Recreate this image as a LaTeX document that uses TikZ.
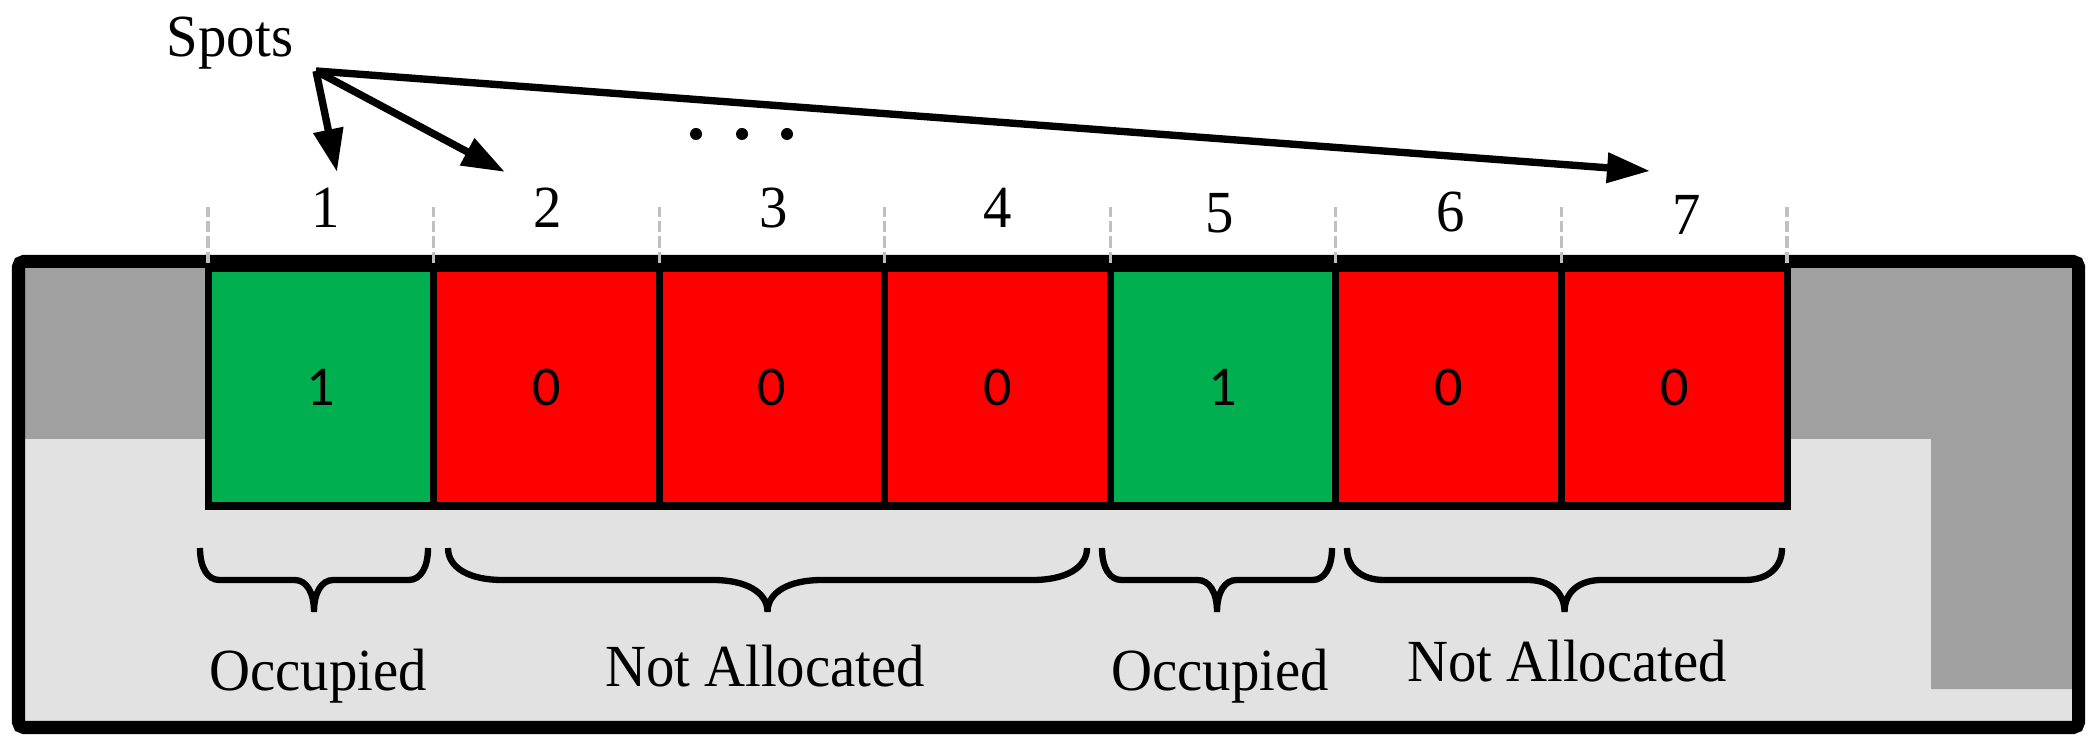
\documentclass[tikz,border=0pt]{standalone}
\usepackage{fontspec}
\setmainfont{Liberation Serif}[FakeStretch=0.95]
\newfontfamily\cellfont{Carlito}
\usetikzlibrary{positioning, arrows.meta, calc}
\definecolor{occcol}{RGB}{0,176,80}
\definecolor{freecol}{RGB}{255,0,0}
\definecolor{wallcol}{RGB}{160,160,160}
\definecolor{floorcol}{RGB}{226,226,226}
\definecolor{tickcol}{RGB}{192,192,192}

% curly brace under a group of spots: left x, right x
\newcommand{\spotbrace}[2]{%
  \pgfmathsetmacro{\bmid}{(#1+#2)/2}%
  \pgfmathsetmacro{\bcur}{0.085*(#2-#1)}%
  \draw[bracepath] (#1,2.00) .. controls (#1,1.80) and ({#1+0.4*\bcur},1.68) .. ({#1+\bcur},1.68)
    -- ({\bmid-\bcur},1.68) .. controls ({\bmid-0.4*\bcur},1.68) and (\bmid,1.56) .. (\bmid,1.36)
    .. controls (\bmid,1.56) and ({\bmid+0.4*\bcur},1.68) .. ({\bmid+\bcur},1.68)
    -- ({#2-\bcur},1.68) .. controls ({#2-0.4*\bcur},1.68) and (#2,1.80) .. (#2,2.00);}

\begin{document}
\begin{tikzpicture}[
  cell/.style={draw, line width=2pt, minimum width=2.2557cm, minimum height=2.38cm, outer sep=0pt, inner sep=0pt, font=\cellfont\fontsize{16}{18}\selectfont},
  occspot/.style={cell, fill=occcol},
  freespot/.style={cell, fill=freecol},
  spotnum/.style={font=\fontsize{17}{20}\selectfont, anchor=base, inner sep=0pt},
  tick/.style={tickcol, line width=0.9pt, dash pattern=on 3.2pt off 1.2pt},
  ptr/.style={-{Triangle[length=4.3mm, width=2.9mm]}, line width=2.1pt},
  bracepath/.style={line width=1.8pt}]
\useasboundingbox (0,0) rectangle (20.97,7.48);

% Parking area
\fill[floorcol] (0.185,0.205) rectangle (20.785,4.865);
\fill[wallcol] (0.24,4.80) rectangle (2.08,3.09);
\fill[wallcol] (17.87,4.80) -- (20.73,4.80) -- (20.73,0.59) -- (19.31,0.59) -- (19.31,3.09) -- (17.87,3.09) -- cycle;

% Spots
\node[occspot] (c1) at (3.208,3.61) {1};
\node[freespot, right=0pt of c1] (c2) {0};
\node[freespot, right=0pt of c2] (c3) {0};
\node[freespot, right=0pt of c3] (c4) {0};
\node[occspot, right=0pt of c4] (c5) {1};
\node[freespot, right=0pt of c5] (c6) {0};
\node[freespot, right=0pt of c6] (c7) {0};

\draw[line width=3.7pt, rounded corners=1.5pt] (0.185,0.205) rectangle (20.785,4.865);

\foreach \i in {1,...,7}
  \draw[tick] ($(c\i.north west)+(0,0.05)$) -- ++(0,0.56);
\draw[tick] ($(c7.north east)+(0,0.05)$) -- ++(0,0.56);

% Numbers
\node[spotnum] (n1) at (3.26,5.20) {1};
\node[spotnum] (n2) at (5.48,5.20) {2};
\node[spotnum] (n3) at (7.74,5.20) {3};
\node[spotnum] (n4) at (9.98,5.20) {4};
\node[spotnum] (n5) at (12.20,5.15) {5};
\node[spotnum] (n6) at (14.51,5.16) {6};
\node[spotnum] (n7) at (16.87,5.13) {7};

\node[spotnum] (spots) at (2.30,6.91) {Spots};
\coordinate (hub) at (3.16,6.77);
\coordinate (t1) at (3.37,5.76);
\coordinate (t2) at (5.05,5.76);
\coordinate (t7) at (16.50,5.77);
\draw[ptr] (hub) -- (t1);
\draw[ptr] (hub) -- (t2);
\draw[ptr] (hub) -- (t7);
\foreach \x in {6.96,7.42,7.87}
  \fill (\x,6.14) circle (0.06);

% Groups
\spotbrace{2.00}{4.28}
\spotbrace{4.48}{10.87}
\spotbrace{11.02}{13.32}
\spotbrace{13.47}{17.82}
\node[spotnum] (g1) at (3.18,0.58) {Occupied};
\node[spotnum] (g2) at (7.65,0.61) {Not Allocated};
\node[spotnum] (g3) at (12.20,0.58) {Occupied};
\node[spotnum] (g4) at (15.67,0.66) {Not Allocated};
\end{tikzpicture}
\end{document}
